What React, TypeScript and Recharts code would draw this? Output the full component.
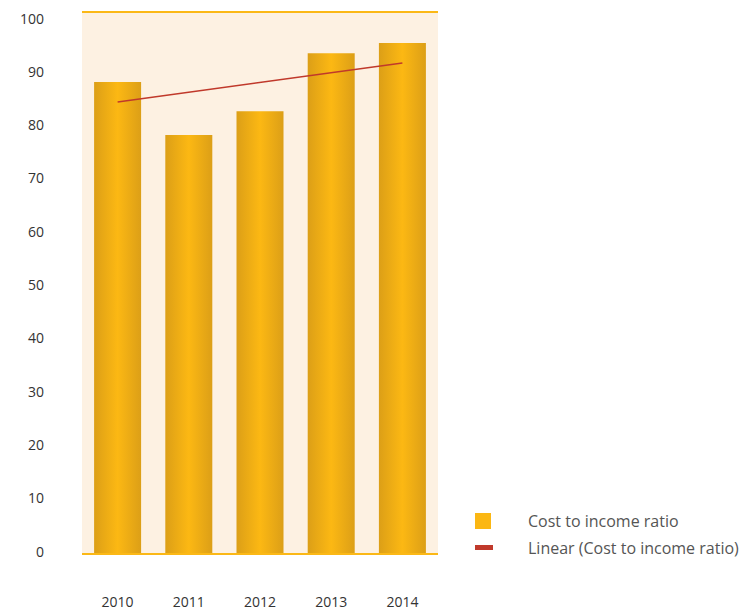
import {
  ComposedChart,
  Bar,
  Line,
  XAxis,
  YAxis,
  ReferenceArea,
  ReferenceLine,
} from 'recharts';

const years = ['2010', '2011', '2012', '2013', '2014'];
const costToIncome = [87.1, 77.3, 81.7, 92.4, 94.3];
// trend line end points; middle years left empty
const linearTrend = [83.4, null, null, null, 90.6];
const yTicks = [0, 10, 20, 30, 40, 50, 60, 70, 80, 90, 100];

const data = years.map((year, i) => ({
  year,
  ratio: costToIncome[i],
  trend: linearTrend[i],
}));

const FONT = '"Open Sans", "Noto Sans", sans-serif';
const PLOT_TOP = 12;
const PLOT_BOTTOM = 554;

function YTick({ y, payload }: any) {
  // labels in the original sit a little inside the plot frame
  const ly = 18 + ((y - PLOT_TOP) * (551 - 18)) / (PLOT_BOTTOM - PLOT_TOP);
  return (
    <text x={44} y={ly} textAnchor="end" dominantBaseline="central" fill="#333" fontSize={14} fontFamily={FONT}>
      {payload.value}
    </text>
  );
}

function XTick({ x, payload }: any) {
  return (
    <text x={x} y={601} textAnchor="middle" dominantBaseline="central" fill="#333" fontSize={14} fontFamily={FONT}>
      {payload.value}
    </text>
  );
}

function ChartLegend() {
  const row = { display: 'flex', alignItems: 'center', height: 27 };
  const label = { marginLeft: 37, color: '#555', fontSize: 16, fontFamily: FONT };
  return (
    <div style={{ position: 'absolute', left: 475, top: 507 }}>
      <div style={row}>
        <div style={{ width: 16, height: 16, background: '#fbb713' }} />
        <span style={label}>Cost to income ratio</span>
      </div>
      <div style={row}>
        <div style={{ width: 18, height: 5, background: '#c0392b', marginRight: -2 }} />
        <span style={label}>Linear (Cost to income ratio)</span>
      </div>
    </div>
  );
}

export default function App() {
  return (
    <div style={{ position: 'absolute', left: 0, top: 0, width: 750, height: 611, background: '#fff' }}>
      <ComposedChart
        width={750}
        height={611}
        data={data}
        margin={{ top: PLOT_TOP, right: 312, bottom: 0, left: 0 }}
        barCategoryGap="17%"
      >
        <defs>
          <linearGradient id="barFill" x1="0" y1="0" x2="1" y2="0">
            <stop offset="0%" stopColor="#dc9f17" />
            <stop offset="50%" stopColor="#fcb813" />
            <stop offset="100%" stopColor="#dc9f17" />
          </linearGradient>
        </defs>
        <XAxis dataKey="year" axisLine={false} tickLine={false} tick={<XTick />} height={611 - PLOT_BOTTOM} />
        <YAxis
          domain={[0, 100]}
          ticks={yTicks}
          axisLine={false}
          tickLine={false}
          tick={<YTick />}
          width={82}
        />
        <ReferenceArea y1={0} y2={100} fill="#fdf1e2" fillOpacity={1} stroke="none" />
        <ReferenceLine y={100} stroke="#fbb816" strokeWidth={2} />
        <ReferenceLine y={0} stroke="#fbb816" strokeWidth={2} />
        <Bar dataKey="ratio" name="Cost to income ratio" fill="url(#barFill)" isAnimationActive={false} />
        <Line
          dataKey="trend"
          name="Linear (Cost to income ratio)"
          stroke="#c0392b"
          strokeWidth={1.5}
          dot={false}
          connectNulls
          isAnimationActive={false}
        />
      </ComposedChart>
      <ChartLegend />
    </div>
  );
}
